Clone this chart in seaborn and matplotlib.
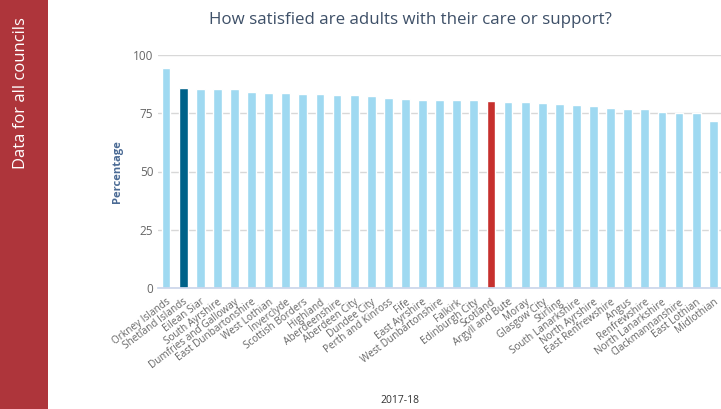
import matplotlib
matplotlib.use("Agg")
import matplotlib.pyplot as plt
import seaborn as sns
import pandas as pd
from matplotlib.patches import Rectangle

councils = ["Orkney Islands", "Shetland Islands", "Eilean Siar", "South Ayrshire",
            "Dumfries and Galloway", "East Dunbartonshire", "West Lothian", "Inverclyde",
            "Scottish Borders", "Highland", "Aberdeenshire", "Aberdeen City", "Dundee City",
            "Perth and Kinross", "Fife", "East Ayrshire", "West Dunbartonshire", "Falkirk",
            "Edinburgh City", "Scotland", "Argyll and Bute", "Moray", "Glasgow City",
            "Stirling", "South Lanarkshire", "North Ayrshire", "East Renfrewshire", "Angus",
            "Renfrewshire", "North Lanarkshire", "Clackmannanshire", "East Lothian", "Midlothian"]
values = [94.2, 85.6, 85.2, 85.2, 85.2, 84.0, 83.5, 83.5, 83.0, 83.0, 82.6, 82.6, 82.2,
          81.3, 80.9, 80.5, 80.5, 80.5, 80.5, 80.0, 79.7, 79.7, 79.3, 78.9, 78.5, 78.0,
          77.2, 76.7, 76.7, 75.5, 75.0, 75.0, 71.6]
highlight_selected = "Shetland Islands"
highlight_national = "Scotland"
yticks = [0, 25, 50, 75, 100]

LIGHT = "#9fd9f1"
DARK = "#006289"
RED = "#c6302d"

palette = {c: (DARK if c == highlight_selected else RED if c == highlight_national else LIGHT)
           for c in councils}

df = pd.DataFrame({"council": councils, "value": values})

sns.set_theme(style="white")
plt.rcParams['font.family'] = ['Open Sans', 'DejaVu Sans']

fig = plt.figure(figsize=(7.21, 4.09), dpi=100)
# sidebar
fig.patches.append(Rectangle((0, 0), 48 / 721, 1, transform=fig.transFigure,
                             facecolor="#ae353b", edgecolor="none", zorder=0))
fig.text(21 / 721, 1 - 93 / 409, "Data for all councils", rotation=90, color="white",
         fontsize=12, ha="center", va="center")

ax = fig.add_axes([157.5 / 721, 1 - 288.3 / 409, 564.3 / 721, 233.6 / 409])
sns.barplot(data=df, x="council", y="value", hue="council", palette=palette,
            width=0.52, legend=False, ax=ax, saturation=1)

ax.set_ylim(0, 100)
ax.set_xlim(-0.5, len(councils) - 0.5)
ax.set_yticks(yticks)
ax.set_yticklabels([str(t) for t in yticks], color="#666666", fontsize=8.5)
ax.yaxis.grid(True, color="#d8d8d8", linewidth=1)
ax.set_axisbelow(True)
for s in ["top", "right", "left"]:
    ax.spines[s].set_visible(False)
ax.spines["bottom"].set_color("#ccd6eb")
ax.tick_params(axis="y", length=0, pad=3)

# category boundary ticks
ax.set_xticks([i - 0.5 for i in range(len(councils) + 1)], minor=True)
ax.tick_params(axis="x", which="minor", length=5, color="#ccd6eb", width=1)
ax.set_xticks(range(len(councils)))
ax.set_xticklabels(councils, rotation=37, ha="right", rotation_mode="anchor",
                   color="#666666", fontsize=7.2)
ax.tick_params(axis="x", which="major", length=0, pad=6)

ax.set_xlabel("2017-18", color="#333333", fontsize=7.5, labelpad=2)
ax.xaxis.set_label_coords((400 - 157.5) / 564.3, -(395 - 288.3) / 233.6)
ax.set_ylabel("Percentage", color="#4a6a94", fontsize=8, fontweight="bold")
ax.yaxis.set_label_coords(-(157.5 - 123) / 564.3, 0.5)

fig.text(410 / 721, 1 - 20 / 409, "How satisfied are adults with their care or support?",
         color="#3e5068", fontsize=12.2, ha="center", va="center")

fig.savefig("out.png", dpi=100)
